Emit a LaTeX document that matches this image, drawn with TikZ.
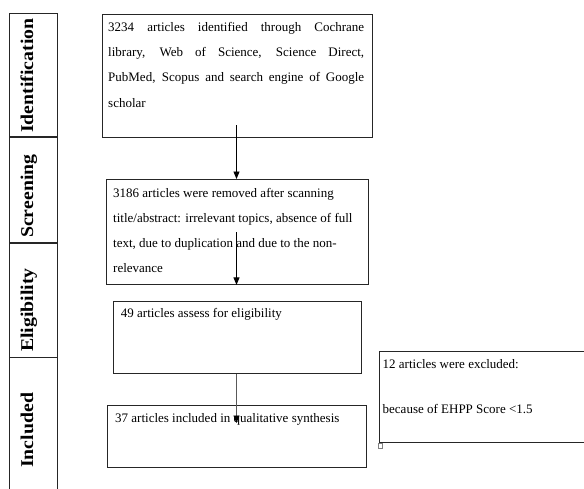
\documentclass[tikz,border=0pt]{standalone}
\usepackage{fontspec}
\setmainfont{Liberation Serif}
\newfontfamily\stagefont[FakeStretch=1.1]{Liberation Serif}
\usepackage{tikz}
\usetikzlibrary{arrows.meta}

\begin{document}
\begin{tikzpicture}[x=1pt, y=-1pt,
  stagecell/.style={draw=black!85, line width=.9pt, minimum width=48pt, inner sep=0pt, anchor=north west},
  stagetext/.style={font=\stagefont\bfseries\fontsize{18}{18}\selectfont, rotate=90, anchor=base west, inner sep=0pt},
  flowbox/.style={draw=black!85, line width=.9pt, inner sep=0pt, anchor=north west},
  flowtext/.style={font=\fontsize{13}{25.3}\selectfont, inner sep=0pt, anchor=north west},
  boxline/.style={draw=black!85, line width=.9pt},
  flowarrow/.style={-{Triangle[length=7.5pt,width=6pt,color=black]}, line width=.8pt}]
\useasboundingbox (0,0) rectangle (584,488);

% stage column
\node[stagecell, minimum height=123pt] (stident) at (9,13) {};
\node[stagecell, minimum height=105pt] (stscreen) at (stident.south west) {};
\node[stagecell, minimum height=114pt] (stelig) at (stscreen.south west) {};
\node[minimum width=48pt, minimum height=133pt, inner sep=0pt, anchor=north west] (stincl) at (stelig.south west) {};
\draw[boxline] (stincl.south west) |- (stincl.north east) -- (stincl.south east);

\node[stagetext] (lblident) at (33,133) {Identification};
\node[stagetext] (lblscreen) at (33,238) {Screening};
\node[stagetext] (lblelig) at (33,352) {Eligibility};
\node[stagetext] (lblincl) at (33,468) {Included};

% flow boxes
\node[flowbox, minimum width=270pt, minimum height=123pt] (ident) at (102,14) {};
\node[flowtext, text width=256pt, align=justify] (identtxt) at (108,21.8)
  {3234 articles identified through Cochrane\linebreak library, Web of Science, Science Direct,\linebreak PubMed, Scopus and search engine of Google\linebreak scholar};

\node[flowbox, minimum width=262pt, minimum height=105pt] (screen) at (106,179) {};
\node[flowtext, font=\fontsize{13}{25}\selectfont, align=left] (screentxt) at (113,187.8)
  {3186 articles were removed after scanning\\title/abstract: irrelevant topics, absence of full\\text, due to duplication and due to the non-\\relevance};

\node[flowbox, minimum width=248pt, minimum height=72pt] (elig) at (113,301) {};
\node[flowtext] (eligtxt) at (120.7,308.1) {49 articles assess for eligibility};

\node[flowbox, minimum width=259pt, minimum height=62pt] (incl) at (107,405) {};
\node[flowtext] (incltxt) at (115,413.1) {37 articles included in qualitative synthesis};

% excluded box, open on the right
\node[minimum width=205pt, minimum height=91pt, inner sep=0pt, anchor=north west] (excl) at (379,351) {};
\draw[boxline] (excl.north east) -| (excl.south west) -- (excl.south east);
\node[flowtext, font=\fontsize{13}{22.5}\selectfont, align=left] (excltxt) at (382.5,359.1)
  {12 articles were excluded:\\[22.5pt]because of EHPP Score <1.5};
\node[draw=black!50, line width=.5pt, minimum size=4.5pt, inner sep=0pt, anchor=north west] (handle) at (377.5,443) {};

% arrows
\coordinate (a1) at (236.5,125);
\draw[flowarrow] (a1) -- (a1 |- screen.north);
\coordinate (a2) at (236.5,232);
\draw[flowarrow] (a2) -- (a2 |- screen.south);
\coordinate (a3) at (236.5,423);
\draw[flowarrow, black!65] (a3 |- elig.south) -- (a3);
\end{tikzpicture}
\end{document}
